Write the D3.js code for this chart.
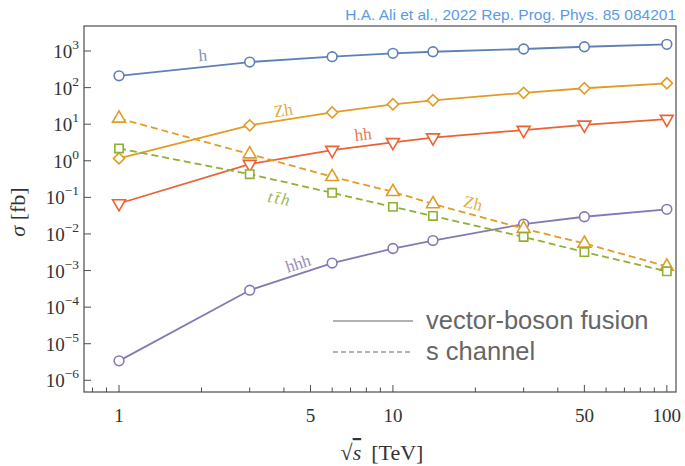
<!DOCTYPE html>
<html lang="en">
<head>
  <meta charset="utf-8">
  <script src="https://cdn.jsdelivr.net/npm/d3@7"></script>
  <style>
    body { margin: 0; background: #fff; }
    svg text { font-family: "Liberation Serif", "Times New Roman", serif; }
    .frame { fill: none; stroke: #4d4d4d; stroke-width: 1.2; }
    .tick line { stroke: #4d4d4d; stroke-width: 1; }
    .ticklabel { fill: #333; font-size: 19px; }
    .credit { font-family: "Liberation Sans", Arial, sans-serif !important; fill: #5a9ae6; font-size: 15.5px; }
    .legend text { font-family: "Liberation Sans", Arial, sans-serif !important; fill: #666; font-size: 25.5px; }
  </style>
</head>
<body>
  <svg id="chart" width="685" height="466"></svg>
  <script>
    // collider energies (TeV)
    var energies = [1, 3, 6, 10, 14, 30, 50, 100];

    // cross sections in fb
    var hVBF   = [210, 500, 700, 865, 955, 1135, 1310, 1520];
    var zhVBF  = [1.16, 9.3, 21, 35, 45, 72, 96, 131];
    var hhVBF  = [0.068, 0.81, 1.96, 3.2, 4.3, 6.9, 9.6, 13.8];
    var hhhVBF = [3.4e-6, 2.9e-4, 1.6e-3, 4.0e-3, 6.6e-3, 0.0186, 0.0295, 0.047];
    var zhS    = [14.4, 1.52, 0.365, 0.142, 0.066, 0.014, 0.0055, 0.0013];
    var tthS   = [2.18, 0.43, 0.133, 0.055, 0.031, 0.0083, 0.0032, 0.00095];

    var yTickExps = [-6, -5, -4, -3, -2, -1, 0, 1, 2, 3];
    var xTickMajor = [1, 5, 10, 50, 100];
    var xTickMinor = [0.8, 0.9, 2, 3, 4, 6, 7, 8, 9, 20, 30, 40, 60, 70, 80, 90];

    var series = [
      { name: "h",   values: hVBF,   color: "#5e81b5", shape: "circle",  dashed: false },
      { name: "Zh",  values: zhVBF,  color: "#e19c24", shape: "diamond", dashed: false },
      { name: "hh",  values: hhVBF,  color: "#eb6235", shape: "tridown", dashed: false },
      { name: "hhh", values: hhhVBF, color: "#8778b3", shape: "circle",  dashed: false },
      { name: "Zh",  values: zhS,    color: "#e19c24", shape: "triup",   dashed: true },
      { name: "tth", values: tthS,   color: "#8fb032", shape: "square",  dashed: true }
    ];

    // curve labels: [text, energy, sigma, angle, color, italic]
    var curveLabels = [
      ["h",   2.02, 776,    -5,  "#5e81b5", false],
      ["Zh",  3.97, 24.3,   -9,  "#e19c24", false],
      ["hh",  7.78, 5.37,   -7,  "#eb6235", false],
      ["tt\u0304h", 3.87, 0.0955, 11, "#8fb032", true],
      ["Zh",  19.6, 0.0697, 14,  "#e19c24", false],
      ["hhh", 4.5,  0.00158, -18, "#8778b3", false]
    ];

    var svg = d3.select("#chart");
    var plotL = 84, plotR = 676, plotT = 26, plotB = 392;

    var x = d3.scaleLog().domain([0.745, 108]).range([plotL, plotR]);
    var y = d3.scaleLog().domain([Math.pow(10, -6.32), Math.pow(10, 3.684)]).range([plotB, plotT]);

    svg.append("text").attr("class", "credit")
      .attr("x", 676).attr("y", 20).attr("text-anchor", "end")
      .text("H.A. Ali et al., 2022 Rep. Prog. Phys. 85 084201");

    // y ticks
    var yt = svg.append("g").attr("class", "tick");
    yTickExps.forEach(function(e) {
      var py = y(Math.pow(10, e));
      yt.append("line").attr("x1", plotL).attr("x2", plotL + 7).attr("y1", py).attr("y2", py);
      var t = svg.append("text").attr("class", "ticklabel")
        .attr("x", 79).attr("y", py + 7).attr("text-anchor", "end");
      t.append("tspan").text("10");
      t.append("tspan").attr("dy", -9).attr("font-size", "13.5px")
        .text(e < 0 ? "\u2212" + (-e) : e);
    });

    // x ticks
    var xt = svg.append("g").attr("class", "tick");
    xTickMajor.forEach(function(v) {
      xt.append("line").attr("x1", x(v)).attr("x2", x(v)).attr("y1", plotB).attr("y2", plotB - 7);
      svg.append("text").attr("class", "ticklabel")
        .attr("x", x(v)).attr("y", 422).attr("text-anchor", "middle")
        .attr("font-size", "20px").text(v);
    });
    xTickMinor.forEach(function(v) {
      xt.append("line").attr("x1", x(v)).attr("x2", x(v)).attr("y1", plotB).attr("y2", plotB - 4.5);
    });

    svg.append("rect").attr("class", "frame")
      .attr("x", plotL).attr("y", plotT).attr("width", plotR - plotL).attr("height", plotB - plotT);

    // axis titles
    var xl = svg.append("text").attr("x", 382).attr("y", 460).attr("text-anchor", "middle")
      .attr("font-size", "22px").attr("fill", "#333");
    xl.append("tspan").text("\u221A");
    xl.append("tspan").attr("font-style", "italic")
      .style("text-decoration", "overline").text("s");
    xl.append("tspan").attr("dx", 10).text("[TeV]");

    var yl = svg.append("text").attr("transform", "translate(25,212) rotate(-90)")
      .attr("text-anchor", "middle").attr("font-size", "22px").attr("fill", "#333");
    yl.append("tspan").attr("font-style", "italic").text("\u03C3");
    yl.append("tspan").text(" [fb]");

    // curves
    var line = d3.line()
      .x(function(d) { return x(d[0]); })
      .y(function(d) { return y(d[1]); });

    function marker(shape) {
      if (shape === "circle") return d3.symbol(d3.symbolCircle, 74)();
      if (shape === "square") return d3.symbol(d3.symbolSquare, 70)();
      if (shape === "diamond") return d3.symbol(d3.symbolSquare, 62)();
      return d3.symbol(d3.symbolTriangle, 72)();
    }
    function markerRot(shape) {
      if (shape === "diamond") return 45;
      if (shape === "tridown") return 180;
      return 0;
    }

    series.forEach(function(s) {
      var pts = energies.map(function(e, i) { return [e, s.values[i]]; });
      var g = svg.append("g");
      g.append("path").datum(pts)
        .attr("d", line)
        .attr("fill", "none")
        .attr("stroke", s.color)
        .attr("stroke-width", 1.8)
        .attr("stroke-dasharray", s.dashed ? "7,4" : null);
      g.selectAll("path.mk").data(pts).enter().append("path")
        .attr("class", "mk")
        .attr("d", marker(s.shape))
        .attr("transform", function(d) {
          return "translate(" + x(d[0]) + "," + y(d[1]) + ") rotate(" + markerRot(s.shape) + ")";
        })
        .attr("fill", "#fff")
        .attr("stroke", s.color)
        .attr("stroke-width", 1.6);
    });

    curveLabels.forEach(function(l) {
      svg.append("text")
        .attr("transform", "translate(" + x(l[1]) + "," + y(l[2]) + ") rotate(" + l[3] + ")")
        .attr("text-anchor", "middle").attr("dy", "0.35em")
        .attr("font-size", "17px")
        .attr("font-style", l[5] ? "italic" : null)
        .attr("letter-spacing", l[5] ? "2px" : null)
        .attr("fill", l[4]).attr("opacity", 0.85)
        .text(l[0]);
    });

    // legend
    var legend = svg.append("g").attr("class", "legend");
    [["vector-boson fusion", null, 321], ["s channel", "5,3", 352]].forEach(function(r) {
      legend.append("line").attr("x1", 333).attr("x2", 413).attr("y1", r[2]).attr("y2", r[2])
        .attr("stroke", "#999").attr("stroke-width", 1.5).attr("stroke-dasharray", r[1]);
      legend.append("text").attr("x", 426).attr("y", r[2] + 8).text(r[0]);
    });
  </script>
</body>
</html>
